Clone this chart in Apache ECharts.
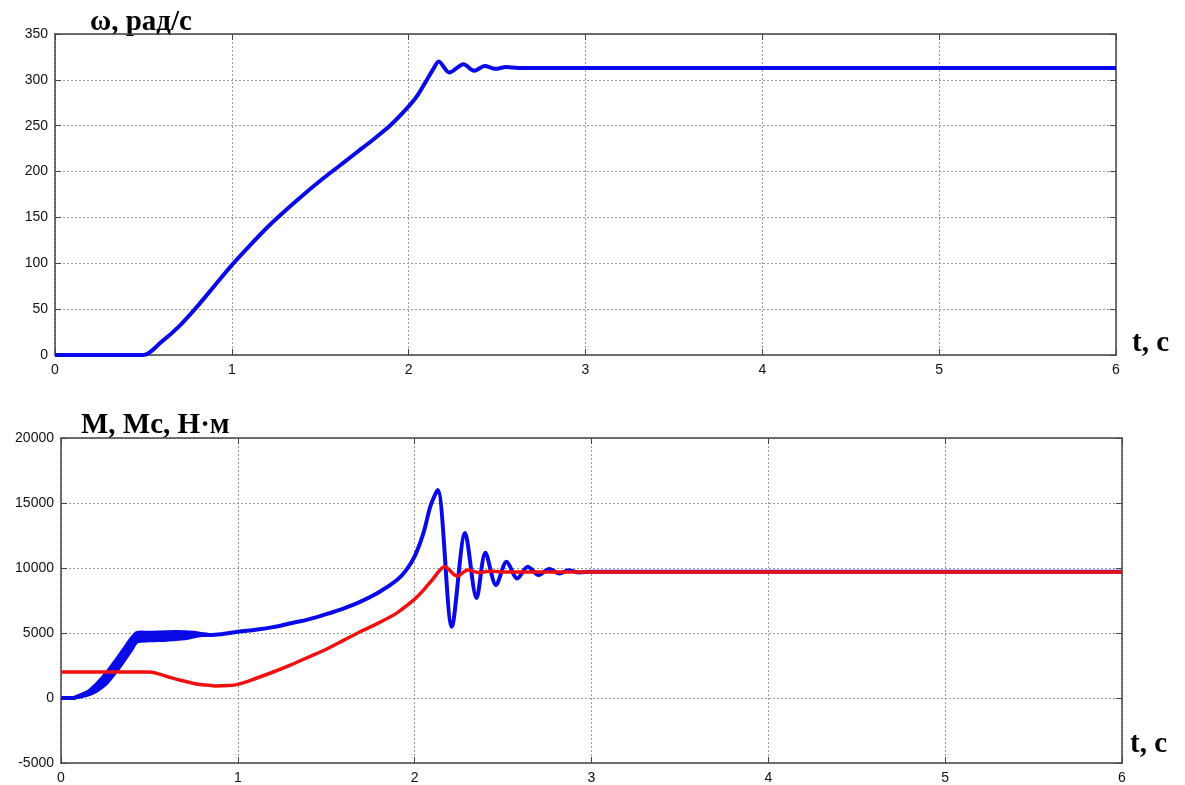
<!DOCTYPE html>
<html>
<head>
<meta charset="utf-8">
<script src="https://cdn.jsdelivr.net/npm/echarts@6/dist/echarts.min.js"></script>
<style>
html,body{margin:0;padding:0;background:#fff;}
#chart{width:1185px;height:785px;}
</style>
</head>
<body>
<div id="chart"></div>
<script>
// ---- Data ----
const xTicks = [0, 1, 2, 3, 4, 5, 6];

// Top: angular speed ω (рад/с)
const omegaT = [0, 0.5, 0.6, 0.7, 0.8, 0.9, 1.0, 1.1, 1.2, 1.3, 1.4, 1.5, 1.6, 1.7, 1.8, 1.9, 2.0, 2.05, 2.1, 2.14, 2.17, 2.23, 2.31, 2.37, 2.43, 2.49, 2.55, 2.62, 2.7, 3, 6];
const omegaV = [0, 0, 14, 31, 52, 75, 98, 119, 139, 157, 174, 190, 205, 220, 235, 251, 271, 283, 299, 312, 320, 308, 317, 310, 315, 312, 314, 313, 313, 313, 313];

// Bottom: electromagnetic torque M (blue)
const mT = [0, 0.07, 0.1, 0.15, 0.2, 0.25, 0.3, 0.35, 0.4, 0.43, 0.5, 0.6, 0.7, 0.8, 0.85, 0.9, 1.0, 1.1, 1.2, 1.3, 1.4, 1.5, 1.6, 1.7, 1.8, 1.9, 1.95, 2.0, 2.05, 2.09, 2.13, 2.21, 2.285, 2.35, 2.40, 2.46, 2.52, 2.58, 2.64, 2.70, 2.76, 2.82, 2.87, 2.93, 3.0, 6];
const mV = [0, 0, 120, 350, 800, 1400, 2250, 3200, 4150, 4650, 4700, 4750, 4850, 4880, 4850, 4900, 5100, 5250, 5450, 5750, 6050, 6450, 6900, 7450, 8150, 9080, 9800, 10900, 12700, 14800, 16000, 5480, 12700, 7690, 11180, 8690, 10490, 9200, 10100, 9460, 9920, 9580, 9830, 9650, 9720, 9720];

// Start-up ripple band of M (upper / lower envelope)
const bandT = [0.07, 0.1, 0.15, 0.2, 0.25, 0.3, 0.35, 0.4, 0.43, 0.5, 0.6, 0.7, 0.75, 0.8, 0.85];
const bandHi = [0, 200, 500, 1100, 1850, 2750, 3700, 4650, 5050, 5050, 5100, 5100, 5050, 4950, 4850];
const bandLo = [0, 50, 200, 500, 1000, 1800, 2700, 3700, 4300, 4400, 4450, 4550, 4700, 4800, 4850];

// Bottom: load torque Mc (red)
const mcT = [0, 0.5, 0.6, 0.67, 0.75, 0.81, 0.87, 0.95, 1.0, 1.1, 1.2, 1.3, 1.4, 1.5, 1.6, 1.7, 1.8, 1.9, 2.0, 2.05, 2.1, 2.17, 2.24, 2.30, 2.36, 2.42, 2.5, 6];
const mcV = [2000, 2000, 1650, 1380, 1120, 1000, 930, 960, 1050, 1500, 2000, 2550, 3150, 3750, 4450, 5150, 5800, 6550, 7600, 8300, 9100, 10100, 9380, 9850, 9650, 9750, 9700, 9700];

// ---- Helpers ----
const zip = (a, b) => a.map((t, i) => [t, b[i]]);

const BLUE = '#0a0ae8';
const RED = '#f01010';
const FRAME = '#444';
const labelStyle = { color: '#111', fontSize: 14, fontFamily: 'Liberation Sans, Arial, sans-serif', formatter: v => String(v) };
const splitLine = { show: true, lineStyle: { color: '#9a9a9a', type: [2, 2], width: 1 } };

function xAxes(gridIndex) {
  return [
    { type: 'value', gridIndex, min: 0, max: 6, interval: 1, position: 'bottom',
      axisLine: { show: true, onZero: false, lineStyle: { color: FRAME, width: 1.5 } },
      axisTick: { show: true, inside: true, length: 6, lineStyle: { color: FRAME } },
      axisLabel: Object.assign({ margin: 8 }, labelStyle), splitLine },
    { type: 'value', gridIndex, min: 0, max: 6, interval: 1, position: 'top',
      axisLine: { show: true, onZero: false, lineStyle: { color: FRAME, width: 1.5 } },
      axisTick: { show: true, inside: true, length: 6, lineStyle: { color: FRAME } },
      axisLabel: { show: false }, splitLine: { show: false } }
  ];
}
function yAxes(gridIndex, min, max, interval) {
  return [
    { type: 'value', gridIndex, min, max, interval, position: 'left',
      axisLine: { show: true, onZero: false, lineStyle: { color: FRAME, width: 1.5 } },
      axisTick: { show: true, inside: true, length: 6, lineStyle: { color: FRAME } },
      axisLabel: Object.assign({ margin: 7 }, labelStyle), splitLine },
    { type: 'value', gridIndex, min, max, interval, position: 'right',
      axisLine: { show: true, onZero: false, lineStyle: { color: FRAME, width: 1.5 } },
      axisTick: { show: true, inside: true, length: 6, lineStyle: { color: FRAME } },
      axisLabel: { show: false }, splitLine: { show: false } }
  ];
}

const titleFont = 'bold 29px "Liberation Serif", "DejaVu Serif", serif';

const option = {
  animation: false,
  backgroundColor: '#fff',
  grid: [
    { left: 55, top: 34, width: 1061, height: 321 },
    { left: 61, top: 438, width: 1061, height: 325 }
  ],
  xAxis: [...xAxes(0), ...xAxes(1)],
  yAxis: [...yAxes(0, 0, 350, 50), ...yAxes(1, -5000, 20000, 5000)],
  series: [
    { name: 'ω', type: 'line', xAxisIndex: 0, yAxisIndex: 0, data: zip(omegaT, omegaV),
      showSymbol: false, smooth: 0.3, lineStyle: { color: BLUE, width: 4 } },
    { name: 'ripple', type: 'custom', xAxisIndex: 2, yAxisIndex: 2, data: [[0, 0]], z: 2,
      renderItem: function (params, api) {
        const pts = [];
        for (let i = 0; i < bandT.length; i++) pts.push(api.coord([bandT[i], bandHi[i]]));
        for (let i = bandT.length - 1; i >= 0; i--) pts.push(api.coord([bandT[i], bandLo[i]]));
        return { type: 'polygon', shape: { points: pts, smooth: 0.3 },
                 style: { fill: BLUE, stroke: BLUE, lineWidth: 3, lineJoin: 'round' } };
      } },
    { name: 'M', type: 'line', xAxisIndex: 2, yAxisIndex: 2, data: zip(mT, mV),
      showSymbol: false, smooth: 0.3, lineStyle: { color: BLUE, width: 4 }, z: 2 },
    { name: 'Mc', type: 'line', xAxisIndex: 2, yAxisIndex: 2, data: zip(mcT, mcV),
      showSymbol: false, smooth: 0.3, lineStyle: { color: RED, width: 3.5 }, z: 3 }
  ],
  graphic: [
    { type: 'text', left: 90, top: 8, style: { text: 'ω, рад/с', font: titleFont, fill: '#000' } },
    { type: 'text', left: 81, top: 411, style: { text: 'M, Mc, Н·м', font: titleFont, fill: '#000' } },
    { type: 'text', left: 1132, top: 329, style: { text: 't, с', font: titleFont, fill: '#000' } },
    { type: 'text', left: 1130, top: 730, style: { text: 't, с', font: titleFont, fill: '#000' } }
  ]
};

const chart = echarts.init(document.getElementById('chart'), null, { renderer: 'canvas' });
chart.setOption(option);
</script>
</body>
</html>
